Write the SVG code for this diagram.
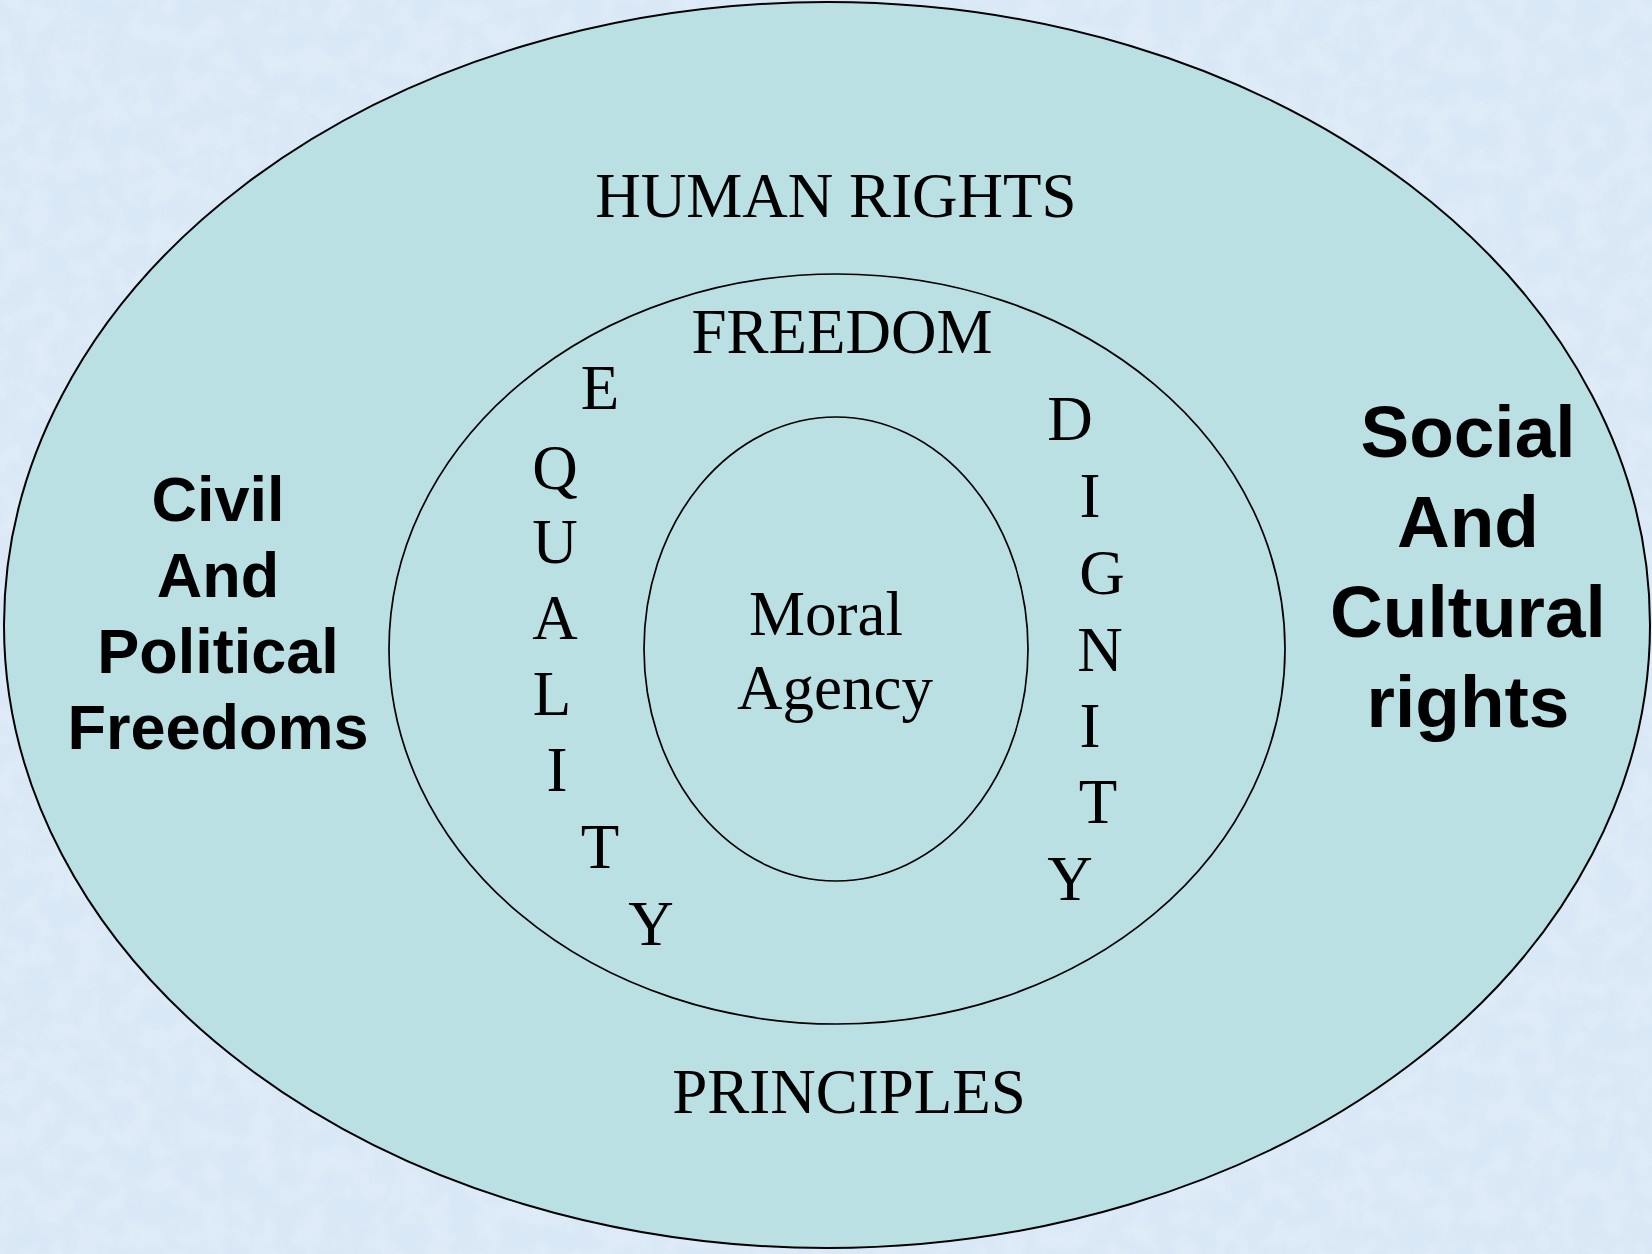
<svg xmlns="http://www.w3.org/2000/svg" width="1652" height="1254" viewBox="0 0 1652 1254">
  <defs>
    <filter id="mottle" x="0" y="0" width="100%" height="100%">
      <feTurbulence type="fractalNoise" baseFrequency="0.04" numOctaves="4" seed="7" result="n"/>
      <feColorMatrix in="n" type="matrix" values="0 0 0 0 0.78  0 0 0 0 0.85  0 0 0 0 0.95  0 0 0 1.3 -0.4" result="c"/>
      <feComposite in="c" in2="SourceGraphic" operator="in"/>
    </filter>
    <style>
      .ring { fill: #BAE0E3; stroke: #000; }
      .serif { font-family: "Liberation Serif", "Times New Roman", serif; font-size: 63px; fill: #000; text-anchor: middle; }
      .bold { font-family: "Liberation Sans", Arial, sans-serif; font-weight: bold; fill: #000; text-anchor: middle; }
    </style>
  </defs>

  <g id="background">
    <rect x="0" y="0" width="1652" height="1254" fill="#D9E8F6"/>
    <rect x="0" y="0" width="1652" height="1254" fill="#C9DDF2" filter="url(#mottle)" opacity="0.9"/>
  </g>

  <g id="human-rights">
    <ellipse class="ring" cx="827" cy="625" rx="823" ry="623" stroke-width="2"/>
    <text class="serif" x="836" y="217">HUMAN RIGHTS</text>
    <text class="serif" x="849" y="1113">PRINCIPLES</text>
  </g>

  <g id="civil-political">
    <text class="bold" font-size="63" x="218" y="521">Civil</text>
    <text class="bold" font-size="63" x="218" y="597">And</text>
    <text class="bold" font-size="63" x="218" y="673">Political</text>
    <text class="bold" font-size="63" x="218" y="749">Freedoms</text>
  </g>

  <g id="social-cultural">
    <text class="bold" font-size="73" x="1468" y="457">Social</text>
    <text class="bold" font-size="73" x="1468" y="547">And</text>
    <text class="bold" font-size="73" x="1468" y="637">Cultural</text>
    <text class="bold" font-size="73" x="1468" y="727">rights</text>
  </g>

  <g id="freedom">
    <ellipse class="ring" cx="837" cy="649" rx="448" ry="375" stroke-width="1.7"/>
    <text class="serif" x="842" y="353">FREEDOM</text>
  </g>

  <g id="equality">
    <text class="serif" x="600" y="409">E</text>
    <text class="serif" x="555" y="489">Q</text>
    <text class="serif" x="555" y="563">U</text>
    <text class="serif" x="555" y="639">A</text>
    <text class="serif" x="552" y="715">L</text>
    <text class="serif" x="557" y="791">I</text>
    <text class="serif" x="600" y="868">T</text>
    <text class="serif" x="651" y="945">Y</text>
  </g>

  <g id="dignity">
    <text class="serif" x="1070" y="440">D</text>
    <text class="serif" x="1090" y="517">I</text>
    <text class="serif" x="1102" y="594">G</text>
    <text class="serif" x="1100" y="671">N</text>
    <text class="serif" x="1090" y="747">I</text>
    <text class="serif" x="1098" y="823">T</text>
    <text class="serif" x="1070" y="900">Y</text>
  </g>

  <g id="moral-agency">
    <ellipse class="ring" cx="836" cy="649" rx="192" ry="232" stroke-width="1.7"/>
    <text class="serif" x="826" y="635">Moral</text>
    <text class="serif" x="835" y="709">Agency</text>
  </g>
</svg>
